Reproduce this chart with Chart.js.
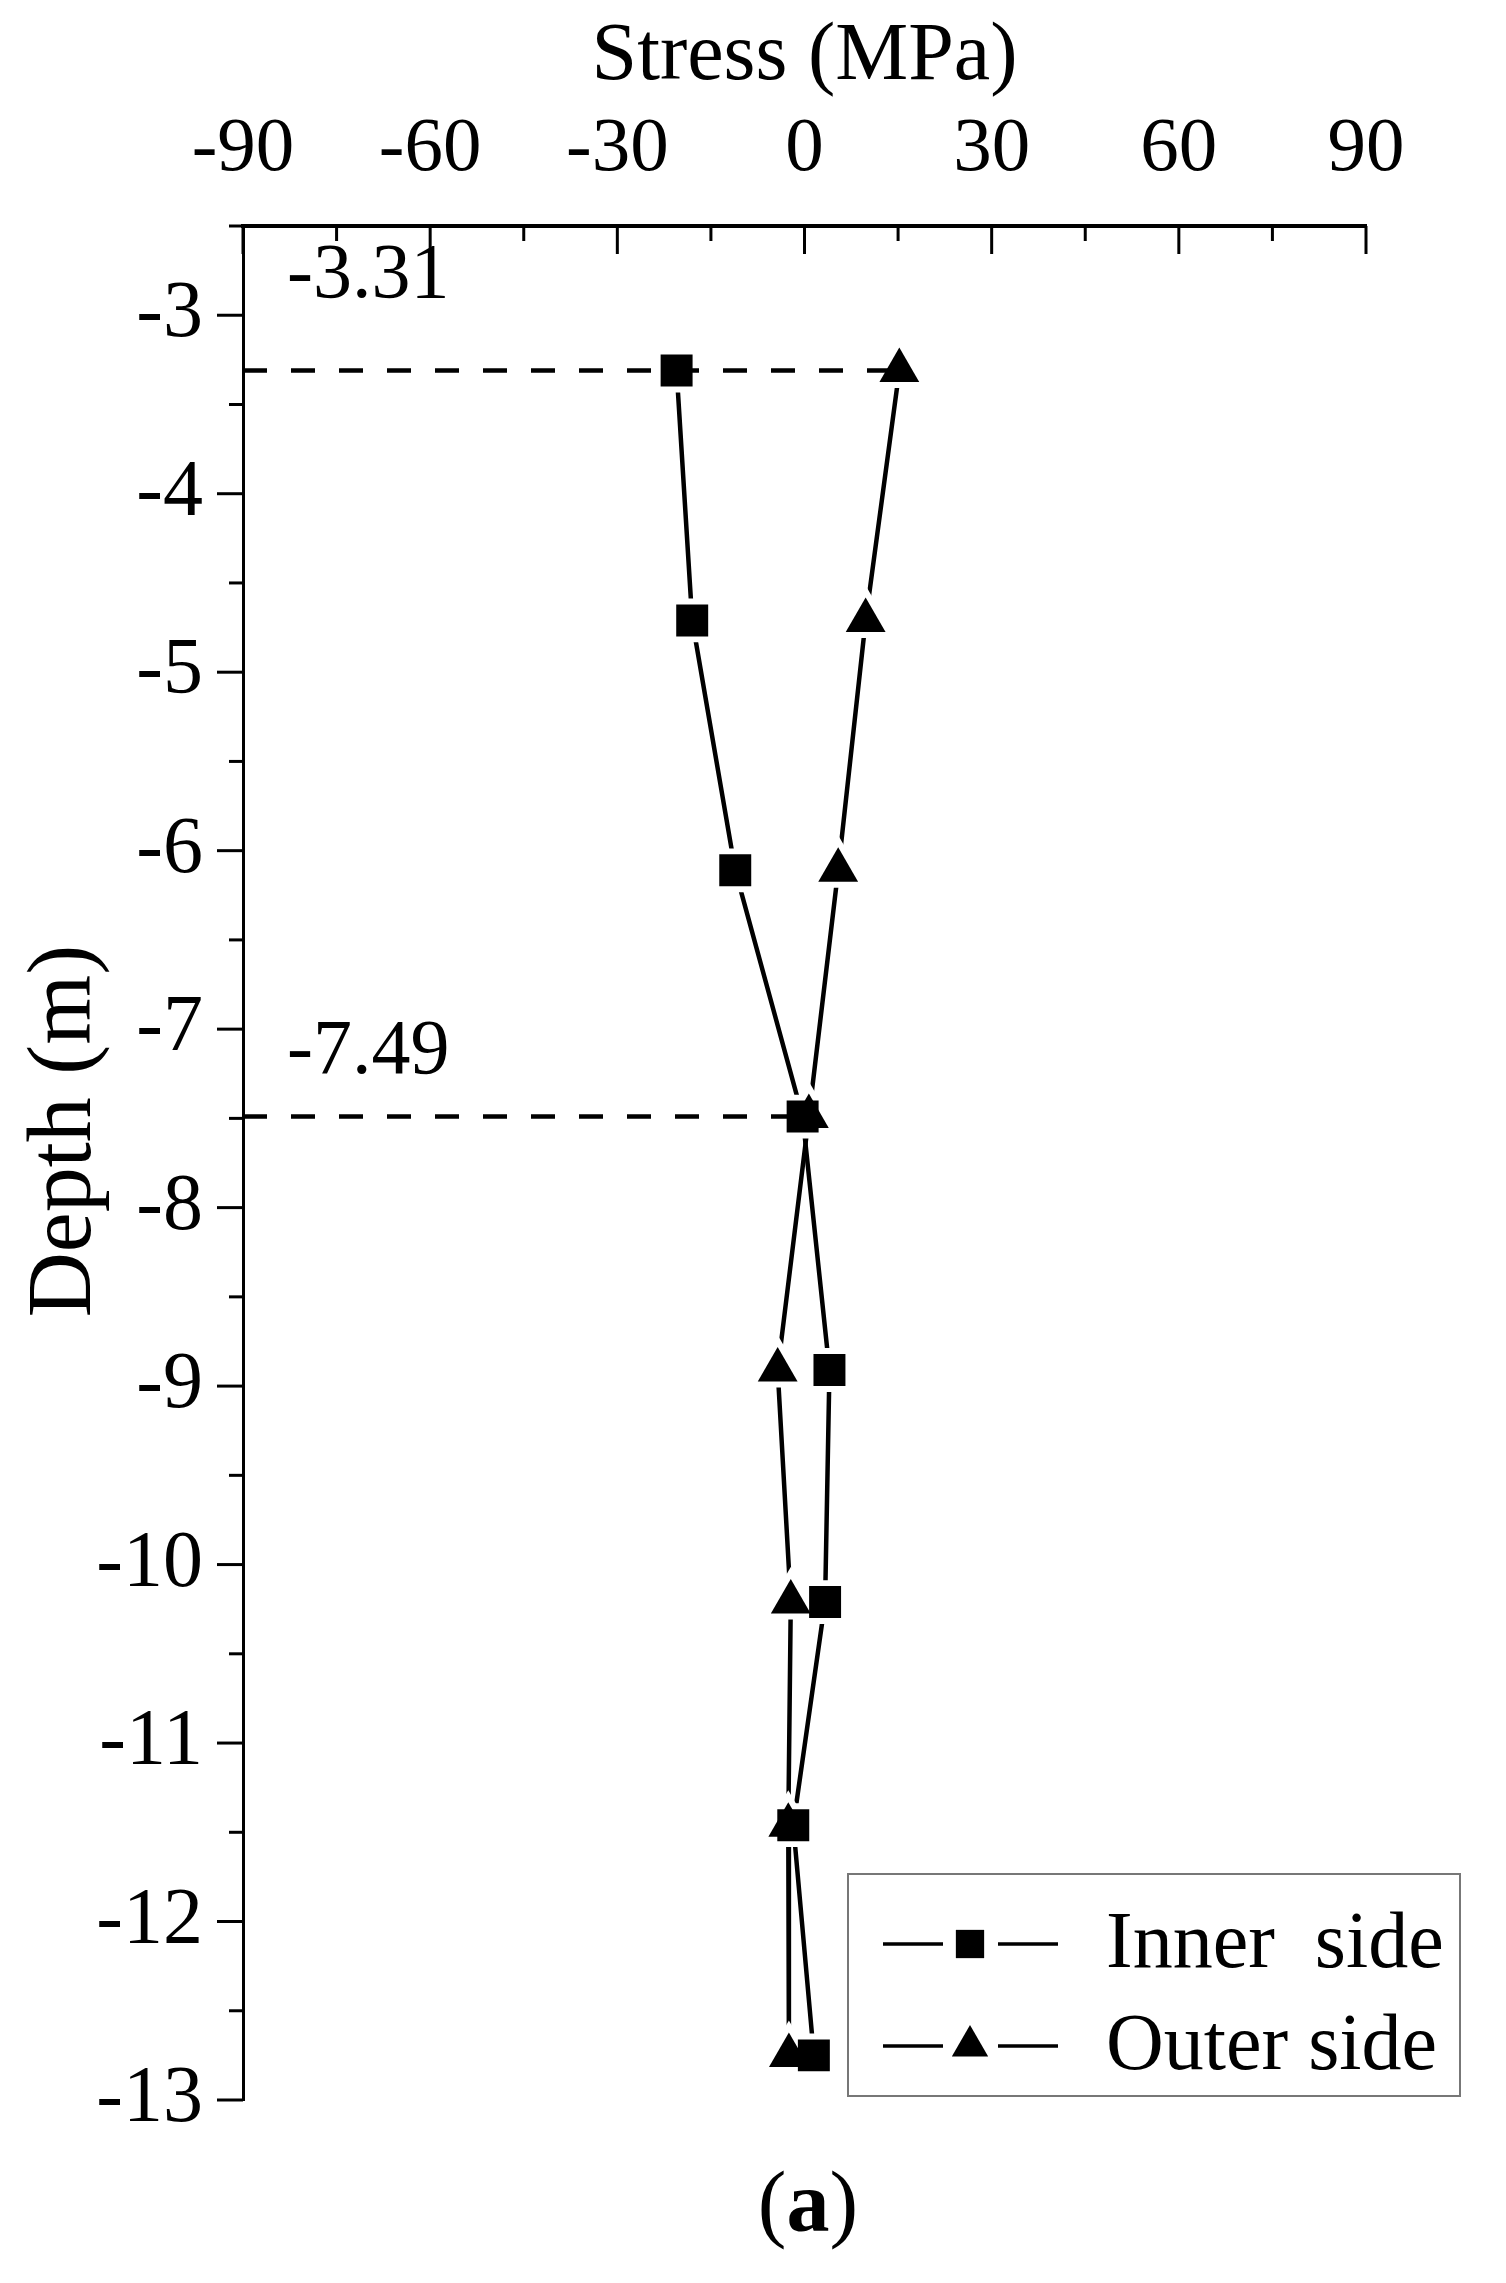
<!DOCTYPE html>
<html>
<head>
<meta charset="utf-8">
<title>Stress vs depth</title>
<script src="https://cdn.jsdelivr.net/npm/chart.js@4.4.1/dist/chart.umd.min.js"></script>
<style>
  html, body { margin: 0; padding: 0; background: #fff; }
  #wrap { position: relative; width: 1506px; height: 2283px; }
  #caption {
    position: absolute; left: 0; top: 2152px; width: 1616px;
    text-align: center; font-family: "Liberation Serif", serif; font-size: 86px; color: #000;
  }
</style>
</head>
<body>
<div id="wrap">
  <canvas id="stressChart" width="1506" height="2283"></canvas>
  <div id="caption">(<b>a</b>)</div>
</div>
<script>
// depth of each gauge (m) and measured stress (MPa)
const DEPTHS = [-3.31, -4.71, -6.11, -7.49, -8.91, -10.21, -11.46, -12.75];
const INNER_SIDE = [-20.5, -18.0, -11.1, -0.3, 4.0, 3.3, -1.8, 1.5];
const OUTER_SIDE = [15.2, 9.8, 5.4, 0.7, -4.3, -2.2, -2.6, -2.5];
const SERIES_NAMES = ["Inner  side", "Outer side"];

const X_TICKS = [-90, -60, -30, 0, 30, 60, 90];
const Y_TICKS = [-3, -4, -5, -6, -7, -8, -9, -10, -11, -12, -13];
const MARKED_DEPTHS = [-3.31, -7.49];
const LABEL_LIFT = [74, 44]; // px above each dashed guide

const FONT = "'Liberation Serif', 'Times New Roman', serif";

const toPoints = (values) => values.map((v, i) => ({ x: v, y: DEPTHS[i] }));

// dashed guide from the axis to the right-most marker at that depth
const guideLines = MARKED_DEPTHS.map((d) => {
  const i = DEPTHS.indexOf(d);
  return [
    { x: X_TICKS[0], y: d },
    { x: Math.max(INNER_SIDE[i], OUTER_SIDE[i]), y: d },
  ];
});

// ticks: x axis ticks point into the plot, y axis ticks point outwards
const axisTicks = {
  id: "axisTicks",
  afterDraw(chart) {
    const { ctx, scales: { x, y } } = chart;
    ctx.save();
    ctx.strokeStyle = "#000";
    ctx.lineWidth = 3;
    const top = x.bottom;
    X_TICKS.forEach((v, i) => {
      const px = x.getPixelForValue(v);
      ctx.beginPath();
      ctx.moveTo(px, top);
      ctx.lineTo(px, top + 28);
      ctx.stroke();
      if (i < X_TICKS.length - 1) {
        const mx = x.getPixelForValue((v + X_TICKS[i + 1]) / 2);
        ctx.beginPath();
        ctx.moveTo(mx, top);
        ctx.lineTo(mx, top + 15);
        ctx.stroke();
      }
    });
    const left = y.right;
    Y_TICKS.forEach((v) => {
      const py = y.getPixelForValue(v);
      ctx.beginPath();
      ctx.moveTo(left, py);
      ctx.lineTo(left - 26, py);
      ctx.stroke();
      // half-unit minor tick
      if (v + 0.5 <= y.max) {
        const my = y.getPixelForValue(v + 0.5);
        ctx.beginPath();
        ctx.moveTo(left, my);
        ctx.lineTo(left - 14, my);
        ctx.stroke();
      }
    });
    ctx.restore();
  },
};

// depth annotations above the dashed guides
const depthLabels = {
  id: "depthLabels",
  afterDraw(chart) {
    const { ctx, scales: { x, y } } = chart;
    ctx.save();
    ctx.fillStyle = "#000";
    ctx.font = "78px " + FONT;
    ctx.textAlign = "left";
    ctx.textBaseline = "alphabetic";
    MARKED_DEPTHS.forEach((d, i) => {
      ctx.fillText(d.toFixed(2), x.left + 44, y.getPixelForValue(d) - LABEL_LIFT[i]);
    });
    ctx.restore();
  },
};

// y axis title, drawn by hand so it can sit a little above the axis centre
const depthTitle = {
  id: "depthTitle",
  afterDraw(chart) {
    const { ctx, scales: { y } } = chart;
    ctx.save();
    ctx.translate(66, (y.top + y.bottom) / 2 - 32);
    ctx.rotate(-Math.PI / 2);
    ctx.fillStyle = "#000";
    ctx.font = "90px " + FONT;
    ctx.textAlign = "center";
    ctx.textBaseline = "middle";
    ctx.fillText("Depth (m)", 0, 0);
    ctx.restore();
  },
};

// boxed legend with line + marker samples
const boxLegend = {
  id: "boxLegend",
  afterDraw(chart) {
    const { ctx } = chart;
    const box = { left: 848, top: 1874, width: 612, height: 222 };
    ctx.save();
    ctx.strokeStyle = "#777";
    ctx.lineWidth = 2;
    ctx.strokeRect(box.left, box.top, box.width, box.height);
    const rows = [
      { name: SERIES_NAMES[0], style: "rect", radius: 20, y: box.top + 70 },
      { name: SERIES_NAMES[1], style: "triangle", radius: 21, y: box.top + 172 },
    ];
    rows.forEach((r) => {
      ctx.strokeStyle = "#000";
      ctx.lineWidth = 3.5;
      ctx.beginPath();
      ctx.moveTo(box.left + 35, r.y);
      ctx.lineTo(box.left + 95, r.y);
      ctx.moveTo(box.left + 150, r.y);
      ctx.lineTo(box.left + 210, r.y);
      ctx.stroke();
      ctx.fillStyle = "#000";
      Chart.helpers.drawPoint(ctx, { pointStyle: r.style, radius: r.radius, rotation: 0, borderWidth: 0 },
        box.left + 122, r.y);
      ctx.font = "80px " + FONT;
      ctx.textBaseline = "middle";
      ctx.fillText(r.name, box.left + 258, r.y + 2);
    });
    ctx.restore();
  },
};

const ctx = document.getElementById("stressChart");
new Chart(ctx, {
  type: "scatter",
  data: {
    datasets: [
      {
        label: "inner line",
        data: toPoints(INNER_SIDE),
        showLine: true,
        borderColor: "#000",
        borderWidth: 4.5,
        pointRadius: 0,
        order: 5,
      },
      {
        label: "outer line",
        data: toPoints(OUTER_SIDE),
        showLine: true,
        borderColor: "#000",
        borderWidth: 4.5,
        pointRadius: 0,
        order: 5,
      },
      {
        label: "inner gap",
        data: toPoints(INNER_SIDE),
        pointStyle: "rect",
        pointRadius: 31,
        pointBackgroundColor: "#fff",
        pointBorderWidth: 0,
        order: 4,
      },
      {
        label: "outer gap",
        data: toPoints(OUTER_SIDE),
        pointStyle: "triangle",
        pointRadius: 35,
        pointBackgroundColor: "#fff",
        pointBorderWidth: 0,
        order: 4,
      },
      ...guideLines.map((pts, i) => ({
        label: "guide " + MARKED_DEPTHS[i],
        data: pts,
        showLine: true,
        borderColor: "#000",
        borderWidth: 4.5,
        borderDash: [24, 24],
        pointRadius: 0,
        order: 3,
      })),
      {
        label: SERIES_NAMES[0],
        data: toPoints(INNER_SIDE),
        pointStyle: "rect",
        pointRadius: 22.6,
        pointBackgroundColor: "#000",
        pointBorderWidth: 0,
        order: 1,
      },
      {
        label: SERIES_NAMES[1],
        data: toPoints(OUTER_SIDE),
        pointStyle: "triangle",
        pointRadius: 23,
        pointBackgroundColor: "#000",
        pointBorderWidth: 0,
        order: 1,
      },
    ],
  },
  options: {
    responsive: false,
    animation: false,
    events: [],
    layout: { padding: { left: 0, top: 0, right: 140, bottom: 183 } },
    plugins: {
      legend: { display: false },
      tooltip: { enabled: false },
    },
    scales: {
      x: {
        type: "linear",
        position: "top",
        min: -90,
        max: 90,
        afterBuildTicks: (s) => { s.ticks = X_TICKS.map((v) => ({ value: v })); },
        afterFit: (s) => { s.height = 226; },
        grid: { display: false, drawTicks: false },
        border: { display: true, color: "#000", width: 4 },
        ticks: {
          color: "#000",
          padding: 30,
          maxRotation: 0,
          font: { family: FONT, size: 77 },
          callback: (v) => String(v),
        },
        title: {
          display: true,
          text: "Stress (MPa)",
          color: "#000",
          font: { family: FONT, size: 82 },
          padding: { top: 8, bottom: 0 },
        },
      },
      y: {
        type: "linear",
        min: -13,
        max: -2.5,
        afterBuildTicks: (s) => { s.ticks = Y_TICKS.map((v) => ({ value: v })); },
        afterFit: (s) => { s.width = 243; },
        grid: { display: false, drawTicks: false },
        border: { display: true, color: "#000", width: 3 },
        ticks: {
          color: "#000",
          padding: 40,
          font: { family: FONT, size: 80 },
          callback: (v) => String(v),
        },
        title: { display: false },
      },
    },
  },
  plugins: [axisTicks, depthLabels, depthTitle, boxLegend],
});
</script>
</body>
</html>
